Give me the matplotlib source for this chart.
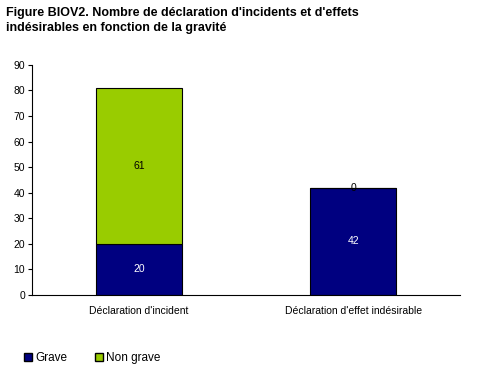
import matplotlib
matplotlib.use('Agg')
import matplotlib.pyplot as plt
from matplotlib.patches import Patch

plt.rcParams['font.family'] = ['Liberation Sans', 'DejaVu Sans']

categories = ["Déclaration d'incident", "Déclaration d'effet indésirable"]
grave = [20, 42]
non_grave = [61, 0]
yticks = list(range(0, 100, 10))

c_grave = '#000080'
c_non = '#99CC00'

fig = plt.figure(figsize=(4.8, 3.73), dpi=100)
ax = fig.add_axes([0.0667, 0.209, 0.892, 0.617])

x = range(len(categories))
ax.bar(x, grave, width=0.4, color=c_grave, edgecolor='black', linewidth=0.8)
ax.bar(x, non_grave, width=0.4, bottom=grave, color=c_non, edgecolor='black', linewidth=0.8)

for i in x:
    ax.text(i, grave[i] / 2, str(grave[i]), ha='center', va='center', color='white', fontsize=7.5)
    ax.text(i, grave[i] + non_grave[i] / 2, str(non_grave[i]), ha='center', va='center',
            color='black', fontsize=7.5)

ax.set_xlim(-0.5, 1.5)
ax.set_ylim(0, 90)
ax.set_yticks(yticks)
ax.tick_params(axis='y', labelsize=7.5, length=3, pad=2)
ax.set_xticks(list(x))
ax.set_xticklabels(categories, fontsize=7.5)
ax.tick_params(axis='x', length=0, pad=8)
ax.spines['top'].set_visible(False)
ax.spines['right'].set_visible(False)

fig.text(0.012, 0.982, "Figure BIOV2. Nombre de déclaration d'incidents et d'effets\nindésirables en fonction de la gravité",
         ha='left', va='top', fontsize=9, fontweight='bold', linespacing=1.35)

handles = [Patch(facecolor=c_grave, edgecolor='black', label='Grave'),
           Patch(facecolor=c_non, edgecolor='black', label='Non grave')]
fig.legend(handles=handles, loc='center left', bbox_to_anchor=(0.027, 0.04), ncol=2,
           frameon=False, fontsize=8.5, handlelength=0.7, handleheight=0.7,
           handletextpad=0.3, columnspacing=2.3)

fig.savefig('out.png', dpi=100)
